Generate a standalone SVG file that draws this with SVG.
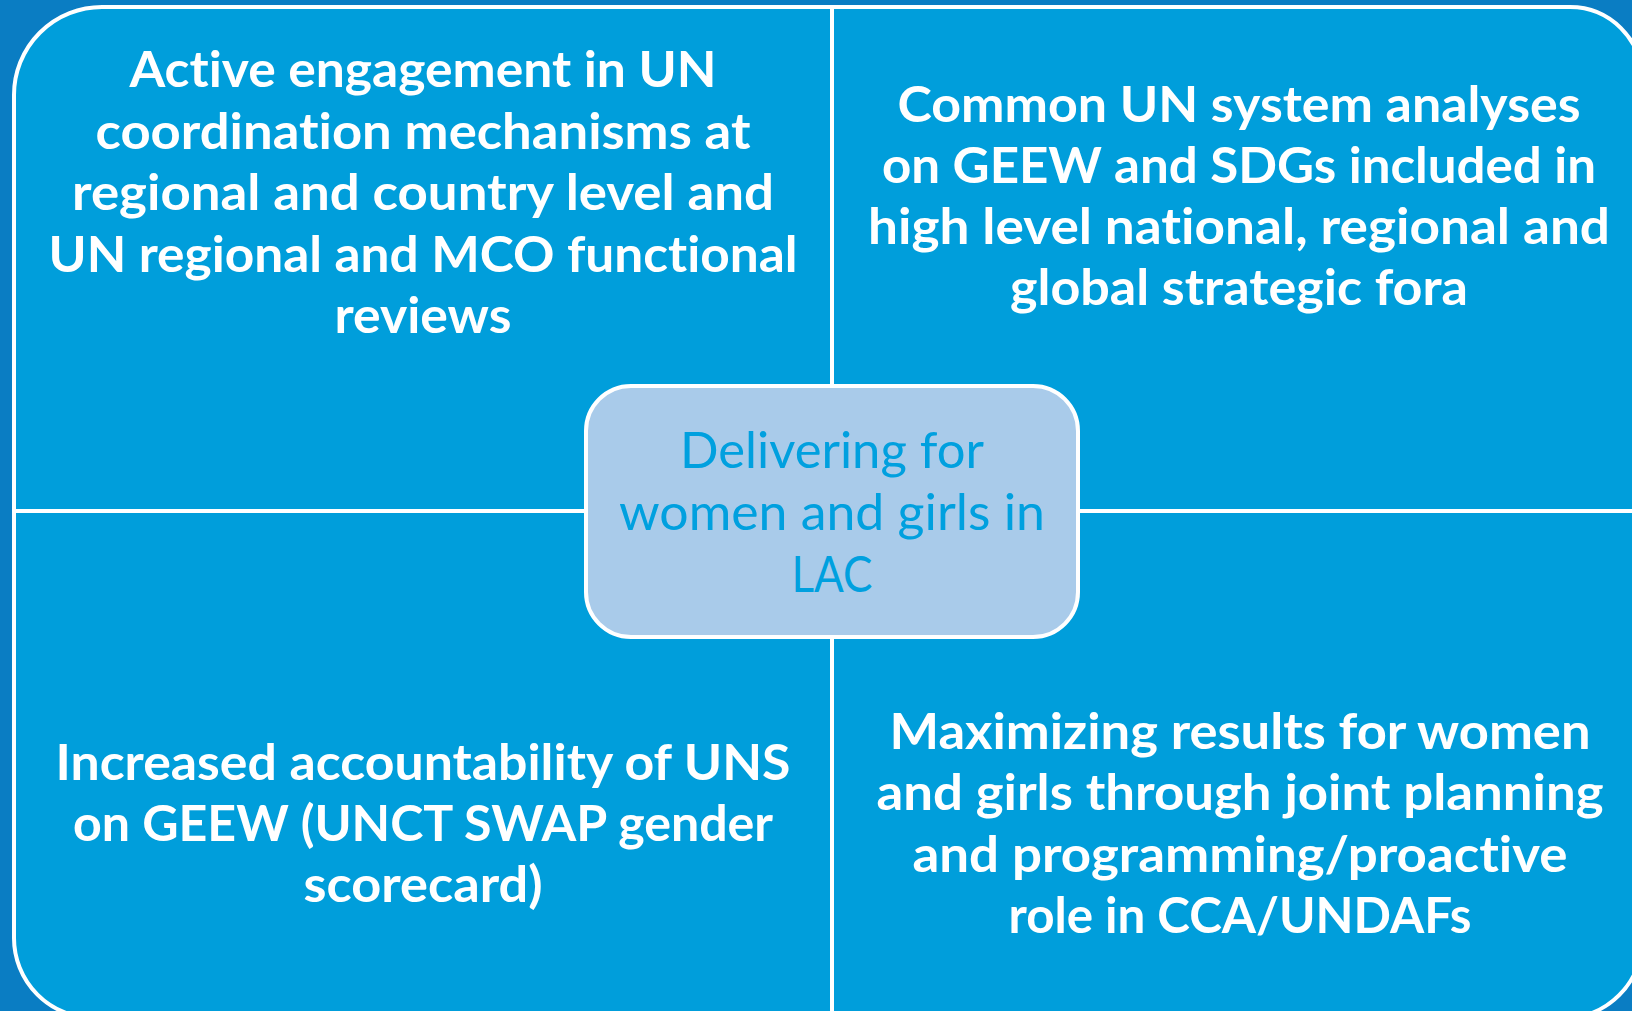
<svg xmlns="http://www.w3.org/2000/svg" width="1632" height="1011" viewBox="0 0 1632 1011">
<style>
.q{fill:#009edb;stroke:#ffffff;stroke-width:4;stroke-linejoin:round}
.t{font-family:Lato,"Open Sans","Liberation Sans",sans-serif;font-weight:bold;font-size:50px;fill:#ffffff;text-anchor:middle;font-variant-ligatures:none;font-feature-settings:"liga" 0}
.c{font-family:Lato,"Open Sans","Liberation Sans",sans-serif;font-weight:normal;font-size:51px;fill:#00a0df;text-anchor:middle;font-variant-ligatures:none;font-feature-settings:"liga" 0}
</style>
<rect x="0" y="0" width="1632" height="1011" fill="#0a7dc3"/>
<g id="q-top-left">
<path class="q" d="M14,511 L14,95 A88,88 0 0 1 102,7 L832,7 L832,511 Z"/>
<text class="t"><tspan x="423" y="87" textLength="587" lengthAdjust="spacingAndGlyphs">Active engagement in UN</tspan><tspan x="423" y="148.5" textLength="655" lengthAdjust="spacingAndGlyphs">coordination mechanisms at</tspan><tspan x="423" y="210" textLength="702" lengthAdjust="spacingAndGlyphs">regional and country level and</tspan><tspan x="423" y="271.5" textLength="749" lengthAdjust="spacingAndGlyphs">UN regional and MCO functional</tspan><tspan x="423" y="333" textLength="177" lengthAdjust="spacingAndGlyphs">reviews</tspan></text>
</g>
<g id="q-top-right">
<path class="q" d="M832,7 L1570,7 A72,72 0 0 1 1642,79 L1642,511 L832,511 Z"/>
<text class="t"><tspan x="1239" y="122" textLength="683" lengthAdjust="spacingAndGlyphs">Common UN system analyses</tspan><tspan x="1239" y="183" textLength="714" lengthAdjust="spacingAndGlyphs">on GEEW and SDGs included in</tspan><tspan x="1239" y="244" textLength="742" lengthAdjust="spacingAndGlyphs">high level national, regional and</tspan><tspan x="1239" y="305" textLength="458" lengthAdjust="spacingAndGlyphs">global strategic fora</tspan></text>
</g>
<g id="q-bottom-left">
<path class="q" d="M14,511 L832,511 L832,1018 L94,1018 A80,80 0 0 1 14,938 Z"/>
<text class="t"><tspan x="423" y="780" textLength="735" lengthAdjust="spacingAndGlyphs">Increased accountability of UNS</tspan><tspan x="423" y="841" textLength="700" lengthAdjust="spacingAndGlyphs">on GEEW (UNCT SWAP gender</tspan><tspan x="423" y="902" textLength="239" lengthAdjust="spacingAndGlyphs">scorecard)</tspan></text>
</g>
<g id="q-bottom-right">
<path class="q" d="M832,511 L1642,511 L1642,940 A78,78 0 0 1 1564,1018 L832,1018 Z"/>
<text class="t"><tspan x="1240" y="749" textLength="701" lengthAdjust="spacingAndGlyphs">Maximizing results for women</tspan><tspan x="1240" y="810" textLength="727" lengthAdjust="spacingAndGlyphs">and girls through joint planning</tspan><tspan x="1240" y="872" textLength="655" lengthAdjust="spacingAndGlyphs">and programming/proactive</tspan><tspan x="1240" y="933" textLength="463" lengthAdjust="spacingAndGlyphs">role in CCA/UNDAFs</tspan></text>
</g>
<g id="center">
<rect x="586" y="386" width="492" height="251" rx="45" ry="45" fill="#a9cbea" stroke="#ffffff" stroke-width="4"/>
<text class="c"><tspan x="832" y="468" textLength="304" lengthAdjust="spacingAndGlyphs">Delivering for</tspan><tspan x="832" y="530" textLength="426" lengthAdjust="spacingAndGlyphs">women and girls in</tspan><tspan x="832" y="592" textLength="81" lengthAdjust="spacingAndGlyphs">LAC</tspan></text>
</g>
<g id="connectors"></g>
</svg>
